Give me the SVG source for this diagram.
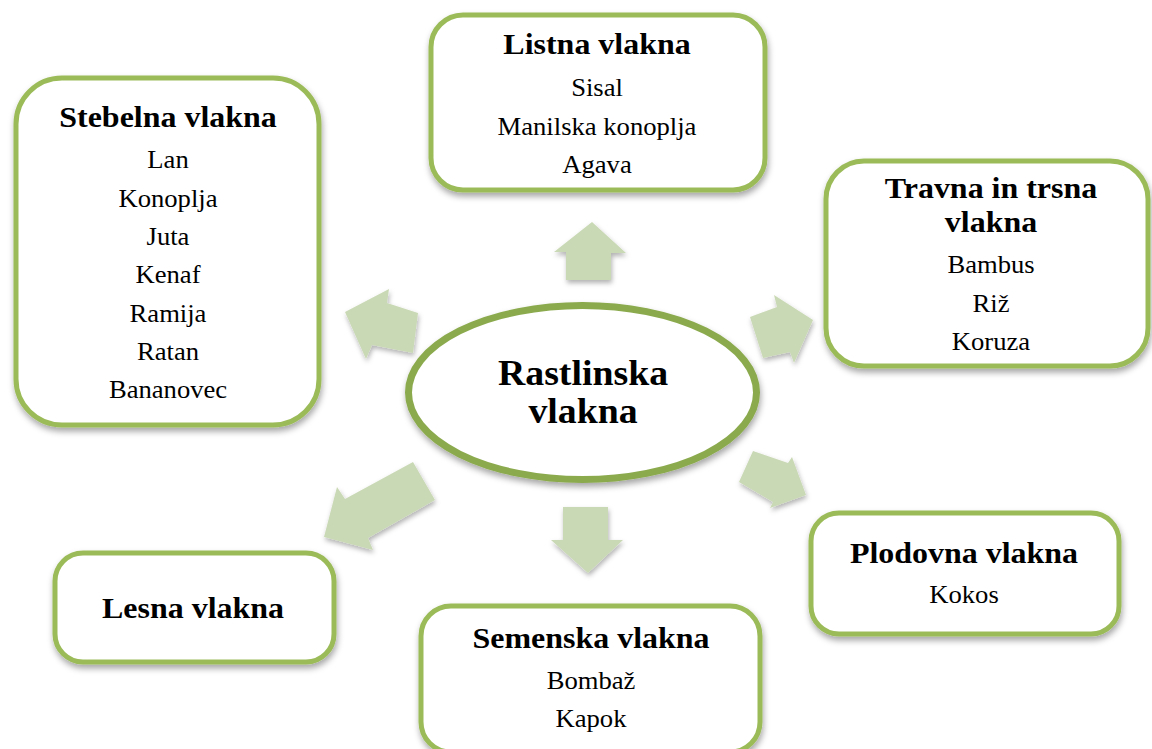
<svg xmlns="http://www.w3.org/2000/svg" width="1152" height="749" viewBox="0 0 1152 749">
<defs>
<filter id="sh" x="-10%" y="-10%" width="120%" height="125%">
<feDropShadow dx="1" dy="4" stdDeviation="3" flood-color="#000" flood-opacity="0.35"/>
</filter>
<filter id="ash" x="-20%" y="-20%" width="140%" height="140%">
<feDropShadow dx="1" dy="3" stdDeviation="2.5" flood-color="#000" flood-opacity="0.3"/>
</filter>
</defs>
<style>
.box{fill:#fff;stroke:#9BBB59;stroke-width:5;filter:url(#sh)}
.arr{fill:#CAD9B5;filter:url(#ash)}
text{font-family:'Liberation Serif',serif;fill:#000;text-anchor:middle}
.t{font-weight:bold;font-size:30px}
.i{font-size:25px}
.c{font-weight:bold;font-size:36px}
</style>
<rect width="1152" height="749" fill="#fff"/>
<g id="connectors">
<polygon class="arr" points="592,222 626,253 611,253 611,280 566,280 566,252 554,252"/>
<polygon class="arr" points="563,507 608,507 608,540 623,540 588,573 551,540 563,540"/>
<polygon class="arr" points="345,312 389,289 387,303 418,313 413,353 372,345 366,359"/>
<polygon class="arr" points="813,320 774,295 777,307 750,317 763,358 790,352 794,363"/>
<polygon class="arr" points="413,462 435,500 368,538 373,550 324,537 337,487 345,499"/>
<polygon class="arr" points="753,451 788,463 792,457 806,495 770,508 773,502 739,482"/>
</g>
<g id="center">
<ellipse cx="582.5" cy="392.5" rx="174" ry="87" fill="#fff" stroke="#8BAA4E" stroke-width="7" filter="url(#sh)"/>
<text class="c" transform="translate(583,385) scale(1.05,1)">Rastlinska</text>
<text class="c" transform="translate(583,423) scale(1.05,1)">vlakna</text>
</g>
<g id="stebelna">
<rect class="box" x="16" y="78" width="303" height="347" rx="46"/>
<text class="t" transform="translate(168,127) scale(1.065,1)">Stebelna vlakna</text>
<text class="i" transform="translate(168,168) scale(1.065,1)">Lan</text>
<text class="i" transform="translate(168,207) scale(1.065,1)">Konoplja</text>
<text class="i" transform="translate(168,245) scale(1.065,1)">Juta</text>
<text class="i" transform="translate(168,283) scale(1.065,1)">Kenaf</text>
<text class="i" transform="translate(168,322) scale(1.065,1)">Ramija</text>
<text class="i" transform="translate(168,360) scale(1.065,1)">Ratan</text>
<text class="i" transform="translate(168,398) scale(1.065,1)">Bananovec</text>
</g>
<g id="listna">
<rect class="box" x="431" y="15" width="334" height="175" rx="32"/>
<text class="t" transform="translate(597,54) scale(1.065,1)">Listna vlakna</text>
<text class="i" transform="translate(597,96) scale(1.065,1)">Sisal</text>
<text class="i" transform="translate(597,135) scale(1.065,1)">Manilska konoplja</text>
<text class="i" transform="translate(597,173) scale(1.065,1)">Agava</text>
</g>
<g id="travna">
<rect class="box" x="826" y="161" width="322" height="205" rx="38"/>
<text class="t" transform="translate(991,198) scale(1.065,1)">Travna in trsna</text>
<text class="t" transform="translate(991,232) scale(1.065,1)">vlakna</text>
<text class="i" transform="translate(991,273) scale(1.065,1)">Bambus</text>
<text class="i" transform="translate(991,312) scale(1.065,1)">Riž</text>
<text class="i" transform="translate(991,350) scale(1.065,1)">Koruza</text>
</g>
<g id="lesna">
<rect class="box" x="55" y="553" width="279" height="109" rx="28"/>
<text class="t" transform="translate(193,618) scale(1.065,1)">Lesna vlakna</text>
</g>
<g id="semenska">
<rect class="box" x="421" y="606" width="339" height="146" rx="30"/>
<text class="t" transform="translate(591,648) scale(1.065,1)">Semenska vlakna</text>
<text class="i" transform="translate(591,689) scale(1.065,1)">Bombaž</text>
<text class="i" transform="translate(591,727) scale(1.065,1)">Kapok</text>
</g>
<g id="plodovna">
<rect class="box" x="811" y="513" width="308" height="121" rx="28"/>
<text class="t" transform="translate(964,563) scale(1.065,1)">Plodovna vlakna</text>
<text class="i" transform="translate(964,603) scale(1.065,1)">Kokos</text>
</g>
</svg>
